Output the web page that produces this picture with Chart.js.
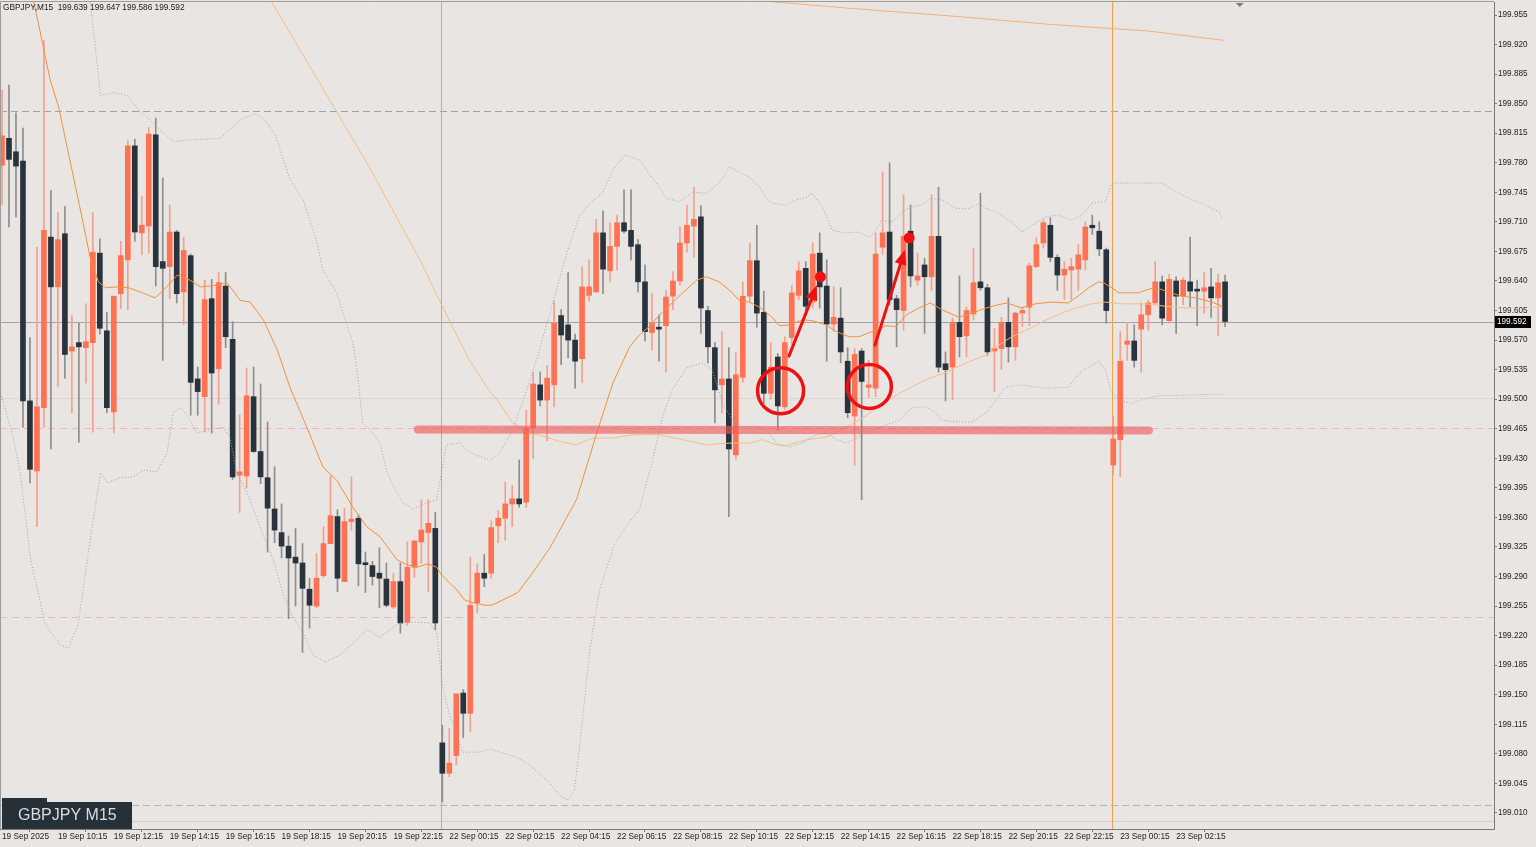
<!DOCTYPE html>
<html><head><meta charset="utf-8">
<script src="https://cdn.jsdelivr.net/npm/chart.js@4.4.1/dist/chart.umd.min.js"></script>
<style>html,body{margin:0;padding:0;background:#E9E5E2;overflow:hidden}canvas{display:block}</style>
</head><body>
<canvas id="c" width="1536" height="847"></canvas>
<script>
// ---- GBPJPY M15 candles (index 0 = 19 Sep 08:15) ----
const opens = [199.777,199.809,199.793,199.782,199.498,199.415,199.490,199.692,199.633,199.696,199.557,199.567,199.561,199.567,199.673,199.581,199.485,199.625,199.665,199.800,199.697,199.705,199.813,199.663,199.657,199.698,199.627,199.670,199.524,199.503,199.619,199.536,199.634,199.571,199.410,199.409,199.503,199.438,199.407,199.370,199.342,199.326,199.313,199.306,199.275,199.255,199.291,199.329,199.361,199.284,199.355,199.359,199.306,199.303,199.294,199.287,199.254,199.284,199.236,199.301,199.331,199.342,199.347,199.093,199.057,199.078,199.152,199.128,199.259,199.294,199.294,199.350,199.359,199.376,199.382,199.378,199.466,199.517,199.499,199.517,199.599,199.588,199.570,199.548,199.623,199.627,199.697,199.652,199.681,199.709,199.700,199.683,199.639,199.579,199.585,199.587,199.622,199.640,199.685,199.705,199.716,199.605,199.561,199.517,199.524,199.434,199.526,199.622,199.664,199.603,199.507,199.550,199.491,199.573,199.623,199.655,199.615,199.673,199.634,199.589,199.596,199.545,199.480,199.557,199.514,199.513,199.680,199.698,199.619,199.605,199.699,199.641,199.659,199.645,199.693,199.542,199.538,199.591,199.575,199.601,199.639,199.632,199.557,199.560,199.591,199.562,199.602,199.609,199.657,199.685,199.706,199.668,199.647,199.653,199.654,199.665,199.706,199.699,199.677,199.422,199.452,199.565,199.569,199.583,199.600,199.614,199.639,199.593,199.640,199.622,199.639,199.629,199.628,199.633,199.620,199.639];
const highs = [199.866,199.872,199.839,199.821,199.573,199.680,199.925,199.747,199.721,199.728,199.599,199.590,199.613,199.721,199.690,199.603,199.622,199.687,199.806,199.808,199.740,199.822,199.833,199.762,199.730,199.700,199.692,199.672,199.538,199.641,199.642,199.650,199.650,199.592,199.482,199.537,199.538,199.518,199.473,199.420,199.376,199.338,199.347,199.329,199.288,199.317,199.349,199.409,199.369,199.371,199.408,199.363,199.319,199.308,199.324,199.306,199.294,199.306,199.331,199.333,199.381,199.381,199.366,199.114,199.110,199.151,199.156,199.313,199.305,199.316,199.356,199.368,199.402,199.398,199.428,199.487,199.532,199.532,199.540,199.616,199.606,199.650,199.577,199.657,199.665,199.713,199.723,199.709,199.718,199.748,199.748,199.689,199.659,199.625,199.600,199.629,199.651,199.704,199.730,199.751,199.729,199.610,199.567,199.580,199.561,199.555,199.639,199.685,199.706,199.628,199.567,199.554,199.574,199.635,199.663,199.663,199.685,199.697,199.665,199.633,199.632,199.561,199.560,199.560,199.546,199.697,199.769,199.780,199.623,199.742,199.730,199.673,199.667,199.742,199.751,199.556,199.596,199.646,199.609,199.679,199.744,199.636,199.584,199.597,199.620,199.603,199.609,199.661,199.691,199.712,199.715,199.671,199.663,199.667,199.683,199.710,199.718,199.710,199.679,199.480,199.580,199.591,199.588,199.614,199.617,199.663,199.646,199.648,199.645,199.644,199.692,199.641,199.650,199.655,199.648,199.647];
const lows = [199.730,199.704,199.716,199.467,199.401,199.349,199.467,199.441,199.515,199.525,199.484,199.449,199.519,199.461,199.577,199.484,199.460,199.607,199.606,199.687,199.671,199.673,199.634,199.546,199.619,199.614,199.588,199.481,199.481,199.461,199.460,199.494,199.561,199.405,199.366,199.395,199.437,199.400,199.319,199.330,199.312,199.240,199.255,199.200,199.229,199.253,199.289,199.329,199.272,199.284,199.345,199.279,199.271,199.280,199.253,199.254,199.252,199.223,199.232,199.289,199.306,199.272,199.227,199.023,199.053,199.067,199.099,199.106,199.247,199.278,199.288,199.330,199.333,199.349,199.372,199.372,199.430,199.492,199.451,199.491,199.541,199.549,199.513,199.520,199.616,199.627,199.625,199.639,199.653,199.697,199.665,199.627,199.569,199.558,199.545,199.532,199.606,199.635,199.674,199.668,199.578,199.543,199.472,199.484,199.361,199.429,199.520,199.615,199.585,199.495,199.500,199.463,199.488,199.565,199.618,199.600,199.608,199.608,199.545,199.580,199.543,199.478,199.422,199.381,199.502,199.503,199.671,199.612,199.562,199.582,199.633,199.635,199.578,199.629,199.532,199.498,199.499,199.550,199.550,199.594,199.629,199.552,199.509,199.535,199.544,199.546,199.586,199.587,199.656,199.679,199.663,199.629,199.618,199.618,199.629,199.653,199.695,199.670,199.590,199.410,199.408,199.546,199.538,199.532,199.582,199.612,199.588,199.590,199.578,199.612,199.609,199.587,199.602,199.597,199.575,199.586];
const closes = [199.812,199.784,199.776,199.498,199.417,199.491,199.700,199.633,199.689,199.553,199.562,199.562,199.568,199.674,199.584,199.490,199.622,199.670,199.800,199.698,199.706,199.814,199.657,199.655,199.698,199.625,199.676,199.520,199.509,199.618,199.531,199.638,199.574,199.408,199.414,199.504,199.438,199.408,199.371,199.345,199.326,199.312,199.306,199.276,199.256,199.288,199.329,199.362,199.288,199.355,199.358,199.305,199.304,199.290,199.288,199.256,199.284,199.235,199.301,199.332,199.345,199.353,199.235,199.057,199.069,199.151,199.128,199.256,199.294,199.288,199.348,199.359,199.376,199.382,199.376,199.466,199.518,199.499,199.525,199.590,199.576,199.570,199.545,199.633,199.633,199.697,199.654,199.681,199.709,199.699,199.681,199.639,199.580,199.590,199.583,199.621,199.640,199.685,199.706,199.713,199.608,199.562,199.511,199.524,199.441,199.529,199.622,199.664,199.602,199.507,199.538,199.492,199.567,199.626,199.652,199.610,199.672,199.633,199.589,199.597,199.556,199.484,199.553,199.521,199.517,199.672,199.697,199.618,199.606,199.693,199.646,199.646,199.645,199.693,199.538,199.535,199.591,199.574,199.605,199.638,199.632,199.556,199.560,199.591,199.562,199.602,199.605,199.658,199.683,199.709,199.668,199.647,199.654,199.657,199.671,199.704,199.703,199.678,199.605,199.453,199.545,199.569,199.546,199.600,199.614,199.639,199.596,199.642,199.622,199.641,199.628,199.628,199.632,199.620,199.638,199.592];

// ---- axis ticks ----
const xTickIdx = [0,8,16,24,32,40,48,56,64,72,80,88,96,104,112,120,128,136,144,152,160,168];
const xTickLabels = ["19 Sep 2025","19 Sep 10:15","19 Sep 12:15","19 Sep 14:15","19 Sep 16:15","19 Sep 18:15","19 Sep 20:15","19 Sep 22:15","22 Sep 00:15","22 Sep 02:15","22 Sep 04:15","22 Sep 06:15","22 Sep 08:15","22 Sep 10:15","22 Sep 12:15","22 Sep 14:15","22 Sep 16:15","22 Sep 18:15","22 Sep 20:15","22 Sep 22:15","23 Sep 00:15","23 Sep 02:15"];
const yTickValues = [199.010,199.045,199.080,199.115,199.150,199.185,199.220,199.255,199.290,199.325,199.360,199.395,199.430,199.465,199.500,199.535,199.570,199.605,199.640,199.675,199.710,199.745,199.780,199.815,199.850,199.885,199.920,199.955];

// ---- indicators ----
const maX = [4.5,6.9,8.1,10.1,11.6,12.6,13.8,14.8,16.5,18.1,20.1,21.9,23.1,25.1,26.9,28.4,30.8,32.2,34.1,35.5,37.4,39.4,41.2,43.6,45.9,47.9,50.2,52.2,54.1,56.5,57.9,59.4,60.9,62.2,62.9,64.1,65.1,66.2,67.4,69.1,70.1,71.6,73.8,75.9,78.4,82.2,85.1,87.4,89.8,91.2,92.6,94.1,95.9,97.4,99.4,100.8,102.6,104.1,105.5,106.9,108.4,110.2,111.2,112.6,114.5,115.9,117.9,119.4,121.2,122.6,124.5,126.5,127.9,129.4,131.2,132.8,134.5,136.9,138.8,140.8,142.6,143.8,145.9,147.9,150.2,152.6,154.1,155.5,156.9,157.6,158.8,159.8,162.6,164.4,165.5,166.9,168.8,170.8,173.1,174.6];
const maY = [199.973,199.878,199.846,199.768,199.709,199.668,199.639,199.632,199.633,199.632,199.626,199.620,199.629,199.647,199.641,199.633,199.635,199.638,199.617,199.615,199.594,199.558,199.514,199.467,199.420,199.404,199.372,199.349,199.337,199.310,199.304,199.301,199.305,199.301,199.292,199.282,199.274,199.262,199.259,199.256,199.256,199.262,199.271,199.294,199.324,199.381,199.460,199.519,199.562,199.576,199.586,199.600,199.614,199.626,199.641,199.645,199.639,199.629,199.617,199.615,199.609,199.597,199.587,199.588,199.594,199.593,199.588,199.580,199.574,199.574,199.580,199.587,199.586,199.600,199.608,199.614,199.606,199.597,199.602,199.608,199.612,199.614,199.608,199.613,199.615,199.614,199.623,199.632,199.639,199.638,199.632,199.626,199.626,199.631,199.631,199.627,199.622,199.620,199.615,199.610];
const bbUpX = [12.6,14.1,15.9,17.9,19.8,20.8,22.2,24.5,26.5,29.4,31.2,34.1,36.2,37.4,39.1,41.2,43.1,45.1,45.9,47.9,49.4,50.2,50.8,51.6,53.1,54.1,55.1,56.5,57.4,58.8,60.8,62.2,63.6,65.5,66.9,68.4,69.8,71.2,73.1,75.1,76.9,78.8,80.8,82.6,84.1,85.9,87.4,89.1,91.2,93.6,95.1,96.9,98.8,100.8,102.6,104.1,105.5,106.9,108.4,109.4,110.2,112.2,113.6,115.1,115.9,117.4,118.8,120.8,122.6,124.1,125.1,125.8,127.4,128.8,130.2,131.6,132.9,134.5,136.5,138.4,139.8,140.8,142.6,144.5,145.9,147.4,149.4,151.2,153.1,154.5,155.9,157.9,158.8,161.2,163.6,165.9,168.4,170.2,172.2,174.1,174.6];
const bbUpY = [199.973,199.860,199.863,199.860,199.840,199.834,199.822,199.805,199.807,199.808,199.809,199.831,199.838,199.833,199.813,199.760,199.736,199.685,199.653,199.626,199.586,199.567,199.535,199.472,199.460,199.448,199.413,199.389,199.377,199.370,199.377,199.381,199.446,199.448,199.437,199.432,199.428,199.436,199.464,199.511,199.558,199.614,199.673,199.716,199.732,199.744,199.771,199.789,199.783,199.756,199.738,199.734,199.745,199.744,199.756,199.775,199.769,199.763,199.751,199.738,199.732,199.730,199.736,199.739,199.744,199.728,199.700,199.697,199.698,199.692,199.700,199.712,199.710,199.722,199.728,199.730,199.738,199.736,199.726,199.726,199.732,199.726,199.720,199.710,199.698,199.706,199.716,199.718,199.712,199.718,199.732,199.734,199.756,199.756,199.756,199.756,199.744,199.736,199.730,199.722,199.713];
const bbLoX = [-0.2,1.6,2.6,4.1,6.2,8.4,9.5,10.9,12.6,14.1,15.1,16.9,18.8,20.2,22.2,23.6,24.5,25.5,26.5,27.9,29.8,31.6,32.6,33.6,35.1,36.9,38.8,40.2,41.6,43.1,44.5,46.2,48.4,50.2,52.2,54.1,55.5,56.9,59.4,61.2,62.2,63.1,64.1,65.1,65.9,68.4,69.8,71.2,73.6,75.1,76.9,78.4,79.8,80.9,81.9,82.6,84.1,85.5,87.6,89.4,91.2,93.1,94.5,95.9,97.9,100.2,101.6,103.1,105.1,106.9,109.4,110.8,112.6,114.5,116.5,117.9,119.4,120.8,122.2,123.6,125.5,128.4,130.2,132.2,133.6,134.5,136.9,138.8,140.8,142.6,143.6,145.5,149.4,152.6,154.1,155.5,156.9,157.9,158.6,159.8,161.6,163.6,165.5,169.8,174.6];
const bbLoY = [199.507,199.455,199.413,199.310,199.233,199.209,199.205,199.233,199.333,199.413,199.401,199.407,199.408,199.416,199.414,199.436,199.484,199.490,199.481,199.460,199.464,199.467,199.455,199.413,199.389,199.349,199.310,199.270,199.242,199.223,199.197,199.189,199.197,199.211,199.227,199.218,199.227,199.235,199.236,199.235,199.223,199.156,199.124,199.105,199.082,199.082,199.086,199.082,199.076,199.069,199.057,199.045,199.031,199.025,199.037,199.085,199.203,199.274,199.327,199.351,199.369,199.428,199.479,199.511,199.537,199.543,199.535,199.495,199.467,199.468,199.464,199.448,199.443,199.448,199.458,199.460,199.452,199.448,199.454,199.460,199.467,199.475,199.490,199.491,199.484,199.475,199.473,199.473,199.484,199.503,199.514,199.517,199.513,199.514,199.531,199.538,199.545,199.535,199.511,199.499,199.495,199.501,199.504,199.505,199.506];
const slowX = [38.4,52.0,59.8,62.6,64.5,66.9,69.4,71.2,73.1,75.1,77.9,79.8,82.2,84.5,87.4,90.2,94.1,97.4,100.8,104.1,106.9,108.8,110.8,112.2,115.1,117.9,120.2,122.6,125.5,128.4,132.2,135.1,137.9,140.8,142.6,144.5,147.4,149.4,151.6,154.1,155.9,157.9,160.2,163.6,166.5,169.4,174.6];
const slowY = [199.973,199.783,199.665,199.617,199.585,199.546,199.514,199.495,199.472,199.461,199.455,199.450,199.446,199.454,199.454,199.458,199.458,199.452,199.446,199.448,199.448,199.452,199.446,199.445,199.452,199.455,199.464,199.475,199.491,199.507,199.523,199.532,199.543,199.552,199.564,199.574,199.585,199.594,199.602,199.609,199.613,199.615,199.613,199.613,199.610,199.608,199.609];
const slowerX = [108.4,121.2,135.5,149.8,164.1,174.8];
const slowerY = [199.972,199.963,199.954,199.944,199.936,199.925];

// ---- objects on the chart ----
const levelPrices = [199.841, 199.501, 199.466, 199.242, 199.020, 199.001];
const separatorIdx = [63, 159];
const zoneLine = [59.5, 164.1, 199.464];          // from idx, to idx, price
const circleCenters = [[111.4, 199.510], [124.1, 199.515]];
const arrowStarts = [[112.6, 199.551], [124.9, 199.564]];
const arrowTips = [[116.6, 199.635], [129.2, 199.677]];
const arrowDots = [[117.1, 199.645], [129.8, 199.691]];
const headerText = "GBPJPY,M15  199.639 199.647 199.586 199.592";
const symbolLabel = "GBPJPY M15";

// ---- build ----
const BG = '#E9E5E2';
const idx = opens.map((_, i) => i);
const isBull = i => closes[i] >= opens[i];
const zip = (xs, ys) => xs.map((x, k) => ({x: x, y: ys[k]}));
const levelStyles = [
  {c:'#8FA4BC', d:[7,4]}, {c:'#DAD6D3', d:[]}, {c:'#F0B4C6', d:[7,5]},
  {c:'#F0B4C6', d:[7,5]}, {c:'#A3BEAE', d:[7,4]}, {c:'#D2CECB', d:[]}
];
const lineDs = (xs, ys, color, dash, w) => ({
  type:'line', data: zip(xs, ys), borderColor: color, borderWidth: w || 1,
  borderDash: dash || [], pointRadius: 0, tension: 0, fill: false, order: 1, spanGaps: true
});

const plugin = {
  id: 'mt4',
  beforeDraw(chart) {
    const c = chart.ctx; c.save(); c.fillStyle = BG; c.fillRect(0, 0, chart.width, chart.height); c.restore();
  },
  beforeDatasetsDraw(chart) {
    const {ctx, chartArea: a, scales: {x, y}} = chart;
    ctx.save();
    ctx.beginPath(); ctx.rect(a.left, a.top, a.right - a.left, a.bottom - a.top); ctx.clip();
    ctx.lineWidth = 1;
    levelPrices.forEach((p, k) => {
      const yy = Math.round(y.getPixelForValue(p)) + 0.5;
      ctx.strokeStyle = levelStyles[k].c; ctx.setLineDash(levelStyles[k].d);
      ctx.beginPath(); ctx.moveTo(a.left, yy); ctx.lineTo(a.right, yy); ctx.stroke();
    });
    ctx.setLineDash([]);
    // bid line
    const by = Math.round(y.getPixelForValue(closes[closes.length - 1])) + 0.5;
    ctx.strokeStyle = '#A3A3A3';
    ctx.beginPath(); ctx.moveTo(a.left, by); ctx.lineTo(a.right, by); ctx.stroke();
    // period separators
    ctx.strokeStyle = '#F5A04A';
    separatorIdx.forEach(s => {
      const xx = Math.round(x.getPixelForValue(s)) - 0.5;
      ctx.beginPath(); ctx.moveTo(xx, a.top); ctx.lineTo(xx, a.bottom); ctx.stroke();
    });
    ctx.restore();
  },
  afterDatasetsDraw(chart) {
    const {ctx, chartArea: a, scales: {x, y}} = chart;
    ctx.save();
    ctx.beginPath(); ctx.rect(a.left, a.top, a.right - a.left, a.bottom - a.top); ctx.clip();
    // zone line
    ctx.strokeStyle = 'rgba(238,88,88,0.62)'; ctx.lineWidth = 8; ctx.lineCap = 'round';
    const zy = y.getPixelForValue(zoneLine[2]);
    ctx.beginPath(); ctx.moveTo(x.getPixelForValue(zoneLine[0]), zy); ctx.lineTo(x.getPixelForValue(zoneLine[1]), zy + 1); ctx.stroke();
    // circles
    const red = '#EE1111';
    ctx.strokeStyle = red; ctx.lineWidth = 3.5; ctx.lineCap = 'butt';
    const radii = [23, 22];
    circleCenters.forEach((cc, k) => {
      ctx.beginPath(); ctx.arc(x.getPixelForValue(cc[0]), y.getPixelForValue(cc[1]), radii[k], 0, Math.PI * 2); ctx.stroke();
    });
    // arrows
    ctx.fillStyle = red;
    arrowStarts.forEach((s, k) => {
      const x0 = x.getPixelForValue(s[0]), y0 = y.getPixelForValue(s[1]);
      const x1 = x.getPixelForValue(arrowTips[k][0]), y1 = y.getPixelForValue(arrowTips[k][1]);
      const ang = Math.atan2(y1 - y0, x1 - x0);
      const head = 15, hw = 6;
      const bx = x1 - head * Math.cos(ang), byy = y1 - head * Math.sin(ang);
      ctx.lineWidth = 3; ctx.lineCap = 'round';
      ctx.beginPath(); ctx.moveTo(x0, y0); ctx.lineTo(bx, byy); ctx.stroke();
      ctx.beginPath(); ctx.moveTo(x1, y1);
      ctx.lineTo(bx + hw * Math.sin(ang), byy - hw * Math.cos(ang));
      ctx.lineTo(bx - hw * Math.sin(ang), byy + hw * Math.cos(ang));
      ctx.closePath(); ctx.fill();
      const d = arrowDots[k];
      ctx.beginPath(); ctx.arc(x.getPixelForValue(d[0]), y.getPixelForValue(d[1]), 5.5, 0, Math.PI * 2); ctx.fill();
    });
    ctx.restore();
  },
  afterDraw(chart) {
    const {ctx, chartArea: a, scales: {x, y}} = chart;
    ctx.save();
    // frame
    ctx.strokeStyle = '#9C9C9C'; ctx.lineWidth = 1;
    ctx.beginPath(); ctx.moveTo(a.left + 0.5, a.bottom); ctx.lineTo(a.left + 0.5, a.top - 0.5); ctx.lineTo(a.right, a.top - 0.5); ctx.stroke();
    // header
    ctx.fillStyle = '#1A1A1A'; ctx.font = "8.3px 'Liberation Sans', Arial, sans-serif";
    ctx.textBaseline = 'middle'; ctx.textAlign = 'left';
    ctx.fillText(headerText, 3, 8);
    // shift marker
    ctx.fillStyle = '#7C7C7C';
    const tx = x.getPixelForValue(177.1);
    ctx.beginPath(); ctx.moveTo(tx - 4, a.top + 1); ctx.lineTo(tx + 4, a.top + 1); ctx.lineTo(tx, a.top + 5); ctx.closePath(); ctx.fill();
    // symbol label
    ctx.fillStyle = '#263039';
    ctx.fillRect(2, a.bottom - 31, 45, 4);
    ctx.fillRect(2, a.bottom - 27, 130, 27);
    ctx.fillStyle = '#D9DDE1'; ctx.font = "16px 'Liberation Sans', Arial, sans-serif";
    ctx.fillText(symbolLabel, 18, a.bottom - 13);
    // bid label
    const last = closes[closes.length - 1];
    const by = Math.round(y.getPixelForValue(last));
    ctx.fillStyle = '#000000';
    ctx.fillRect(a.right + 1, by - 6, 36, 12);
    ctx.fillStyle = '#FFFFFF'; ctx.font = "8.2px 'Liberation Sans', Arial, sans-serif";
    ctx.fillText(last.toFixed(3), a.right + 3, by);
    ctx.restore();
  }
};

new Chart(document.getElementById('c'), {
  type: 'bar',
  data: {
    datasets: [
      lineDs(maX, maY, '#F5913A', [], 1),
      lineDs(bbUpX, bbUpY, '#A7A2B2', [1, 2], 1),
      lineDs(bbLoX, bbLoY, '#A7A2B2', [1, 2], 1),
      lineDs(slowX, slowY, '#F5BE88', [], 1),
      lineDs(slowerX, slowerY, '#F3B27A', [], 1),
      {
        type: 'bar', label: 'bodies',
        data: idx.map(i => ({x: i, y: [Math.min(opens[i], closes[i]), Math.max(opens[i], closes[i])]})),
        backgroundColor: idx.map(i => isBull(i) ? '#FF7153' : '#29333D'),
        barThickness: 5, grouped: false, minBarLength: 2, borderWidth: 0, order: 3
      },
      {
        type: 'bar', label: 'wicks',
        data: idx.map(i => ({x: i, y: [lows[i], highs[i]]})),
        backgroundColor: idx.map(i => isBull(i) ? '#F4A08D' : '#8D8D8D'),
        barThickness: 1, grouped: false, borderWidth: 0, order: 4
      }
    ]
  },
  options: {
    responsive: false, animation: false, devicePixelRatio: 1,
    layout: {padding: {left: 0, top: 2, right: 0, bottom: 0}},
    plugins: {legend: {display: false}, tooltip: {enabled: false}},
    scales: {
      x: {
        type: 'linear', position: 'bottom', offset: false,
        min: -0.2862, max: 213.478,
        afterBuildTicks: s => { s.ticks = xTickIdx.map(v => ({value: v})); },
        afterFit: s => { s.height = 18; s.paddingLeft = 0; s.paddingRight = 0; },
        ticks: {
          autoSkip: false, maxRotation: 0, minRotation: 0, align: 'start', padding: 0,
          color: '#1E1E1E', font: {family: "'Liberation Sans Narrow', 'Liberation Sans', Arial, sans-serif", size: 8.3},
          callback: v => { const k = xTickIdx.indexOf(v); return k >= 0 ? xTickLabels[k] : ''; }
        },
        grid: {display: true, drawOnChartArea: false, drawTicks: true, tickLength: 3, color: '#7A7A7A'},
        border: {display: true, color: '#7A7A7A'}
      },
      y: {
        type: 'linear', position: 'right', beginAtZero: false,
        min: 198.991, max: 199.9704,
        afterBuildTicks: s => { s.ticks = yTickValues.map(v => ({value: v})); },
        afterFit: s => { s.width = 42; s.paddingTop = 0; s.paddingBottom = 0; },
        ticks: {
          autoSkip: false, padding: 1, color: '#1E1E1E',
          font: {family: "'Liberation Sans', Arial, sans-serif", size: 8.2},
          callback: v => v.toFixed(3)
        },
        grid: {display: true, drawOnChartArea: false, drawTicks: true, tickLength: 3, color: '#7A7A7A'},
        border: {display: true, color: '#7A7A7A'}
      }
    }
  },
  plugins: [plugin]
});
</script>
</body></html>
